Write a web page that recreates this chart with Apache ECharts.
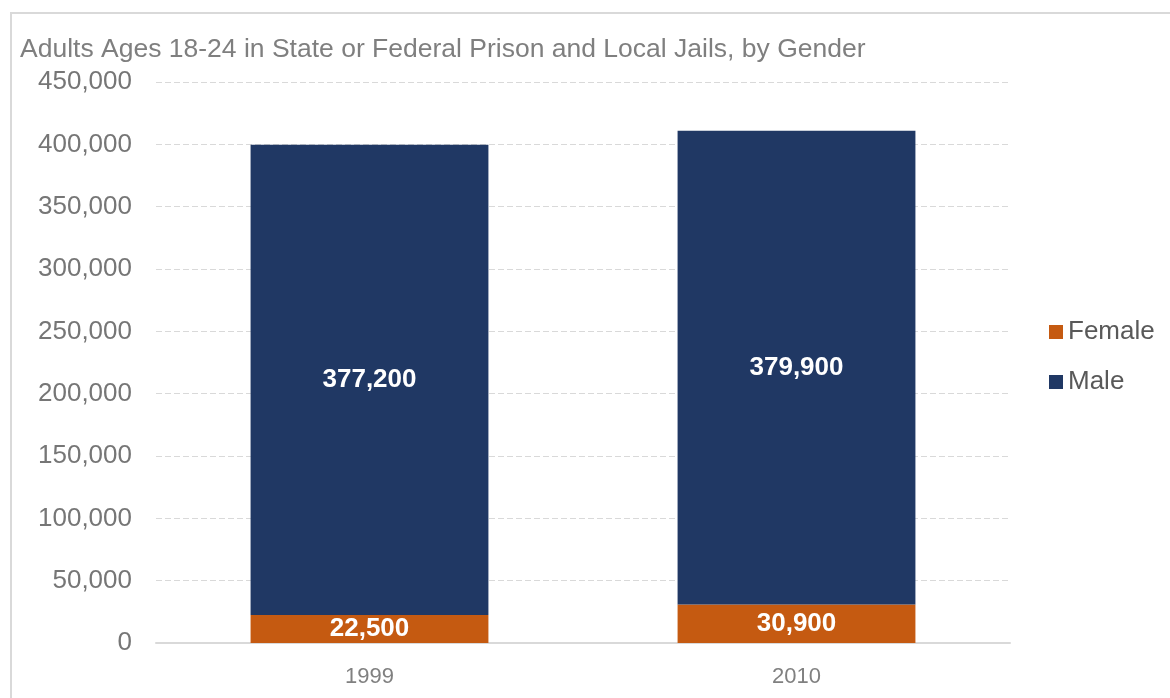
<!DOCTYPE html>
<html>
<head>
<meta charset="utf-8">
<script src="https://cdn.jsdelivr.net/npm/echarts@6/dist/echarts.min.js"></script>
<style>
html,body{margin:0;padding:0;background:#fff;}
#c{width:1170px;height:698px;}
</style>
</head>
<body>
<div id="c"></div>
<script>
const titleText = 'Adults Ages 18-24 in State or Federal Prison and Local Jails, by Gender';
const categories = ['1999', '2010'];
const femaleValues = [22500, 30900];
const maleValues = [377200, 379900];
const seriesNames = ['Female', 'Male'];

const chart = echarts.init(document.getElementById('c'));
const fmt = v => v.toLocaleString('en-US');
const labelStyle = {
  show: true, position: 'inside', color: '#ffffff', fontWeight: 'bold',
  fontSize: 26, fontFamily: 'Liberation Sans, Arial, sans-serif',
  formatter: p => fmt(p.value)
};
chart.setOption({
  animation: false,
  textStyle: { fontFamily: 'Liberation Sans, Arial, sans-serif' },
  graphic: [{
    type: 'rect', shape: { x: 11, y: 13, width: 1200, height: 720 },
    style: { fill: 'none', stroke: '#d9d9d9', lineWidth: 2 }, silent: true
  }],
  title: {
    text: titleText, left: 15, top: 31,
    textStyle: { fontSize: 26.5, fontWeight: 'normal', color: '#7f7f7f' }
  },
  legend: {
    orient: 'vertical', left: 1044, top: 314, itemGap: 24,
    itemWidth: 14, itemHeight: 14, icon: 'rect',
    textStyle: { fontSize: 26, color: '#595959' },
    data: seriesNames
  },
  grid: { left: 156, right: 160, top: 82, bottom: 55, containLabel: false },
  xAxis: {
    type: 'category', data: categories,
    axisLine: { lineStyle: { color: '#d9d9d9', width: 2 } },
    axisTick: { show: false },
    axisLabel: { fontSize: 22, color: '#808080', margin: 23 }
  },
  yAxis: {
    type: 'value', min: 0, max: 450000, interval: 50000,
    axisLine: { show: false }, axisTick: { show: false },
    axisLabel: { fontSize: 26, color: '#767676', margin: 24, formatter: v => fmt(v) },
    splitLine: { lineStyle: { color: '#d9d9d9', type: [6, 3], width: 1 } }
  },
  series: [
    { name: seriesNames[0], type: 'bar', stack: 't', data: femaleValues, barWidth: '55.7%',
      itemStyle: { color: '#c55a11' }, label: labelStyle },
    { name: seriesNames[1], type: 'bar', stack: 't', data: maleValues, barWidth: '55.7%',
      itemStyle: { color: '#203864' }, label: labelStyle }
  ]
});
</script>
</body>
</html>
